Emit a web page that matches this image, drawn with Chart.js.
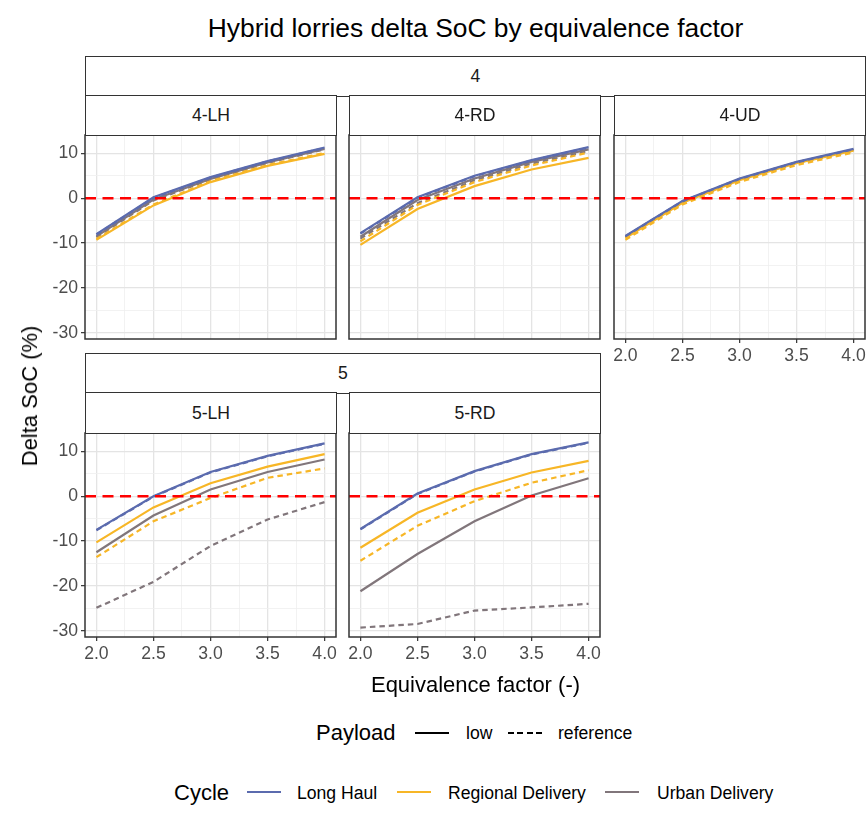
<!DOCTYPE html>
<html>
<head>
<meta charset="utf-8">
<script src="https://cdn.jsdelivr.net/npm/chart.js@4/dist/chart.umd.min.js"></script>
<style>
  body { margin: 0; background: #fff; font-family: "Liberation Sans", Arial, sans-serif; }
  #wrap { position: relative; width: 867px; height: 821px; overflow: hidden; }
  canvas { position: absolute; }
  .txt { position: absolute; white-space: nowrap; color: #000; }
  .strip { position: absolute; box-sizing: border-box; border: 1.5px solid #333; background: #fff;
           color: #1a1a1a; font-size: 17.6px; display: flex; align-items: center; justify-content: center; }
  .key { position: absolute; height: 0; }
</style>
</head>
<body>
<div id="wrap"></div>
<script>
// data
const factors = [2.0, 2.5, 3.0, 3.5, 4.0];
const xTicks = [2.0, 2.25, 2.5, 2.75, 3.0, 3.25, 3.5, 3.75, 4.0];
const yTicks = [-30, -25, -20, -15, -10, -5, 0, 5, 10];
const cycles = ["Long Haul", "Regional Delivery", "Urban Delivery"];
const payloads = ["low", "reference"];
const zeroLine = 0;

// rows: LH low, LH ref, RD low, RD ref, UD low, UD ref
const p4LH = [
  [-8.0, 0.2, 4.7, 8.3, 11.3],
  [-8.1, 0.1, 4.6, 8.2, 11.2],
  [-9.3, -1.6, 3.6, 7.2, 9.9],
  [-9.1, -1.4, 3.8, 7.4, 10.1],
  [-8.5, -0.3, 4.3, 8.0, 11.0],
  [-8.7, -0.5, 4.2, 7.9, 10.9]
];
const p4RD = [
  [-7.8, 0.2, 5.0, 8.5, 11.4],
  [-7.9, 0.1, 4.9, 8.4, 11.3],
  [-10.4, -2.4, 2.7, 6.4, 9.0],
  [-9.6, -1.5, 3.6, 7.3, 10.2],
  [-8.6, -0.4, 4.4, 8.1, 10.9],
  [-9.0, -1.1, 4.0, 7.7, 10.5]
];
const p4UD = [
  [-8.4, -0.6, 4.4, 8.1, 11.0],
  [-8.5, -0.7, 4.3, 8.0, 10.9],
  [-8.9, -1.0, 4.0, 7.8, 10.6],
  [-9.3, -1.4, 3.6, 7.4, 10.2],
  [-8.6, -0.8, 4.2, 8.0, 10.8],
  [-8.8, -1.0, 4.0, 7.8, 10.6]
];
const p5LH = [
  [-7.5, 0.0, 5.4, 9.0, 11.8],
  [-7.6, -0.1, 5.3, 8.9, 11.7],
  [-10.3, -2.5, 2.9, 6.6, 9.4],
  [-13.6, -5.6, -0.4, 4.1, 6.2],
  [-12.5, -4.3, 1.5, 5.4, 8.2],
  [-24.9, -19.1, -11.1, -5.2, -1.3]
];
const p5RD = [
  [-7.3, 0.6, 5.6, 9.4, 12.0],
  [-7.4, 0.5, 5.5, 9.3, 11.9],
  [-11.5, -3.7, 1.5, 5.3, 7.9],
  [-14.4, -6.6, -1.1, 3.0, 5.8],
  [-21.2, -12.9, -5.6, 0.15, 4.0],
  [-29.3, -28.5, -25.5, -24.8, -24.0]
];

const cycleColors = ["#5B6BAE", "#F7B626", "#81767B"];
const FONT = '"Liberation Sans", Arial, sans-serif';

const wrap = document.getElementById('wrap');

function addText(str, x, y, size, opts) {
  opts = opts || {};
  let d = document.createElement('div');
  d.className = 'txt';
  d.textContent = str;
  d.style.fontSize = size + 'px';
  d.style.left = x + 'px';
  d.style.top = y + 'px';
  let tx = opts.center ? '-50%' : '0';
  d.style.transform = 'translate(' + tx + ',-50%)' + (opts.rotate ? ' rotate(-90deg)' : '');
  if (opts.color) d.style.color = opts.color;
  wrap.appendChild(d);
}

function addStrip(label, x, y, w, h) {
  let d = document.createElement('div');
  d.className = 'strip';
  d.textContent = label;
  Object.assign(d.style, { left: x + 'px', top: y + 'px', width: w + 'px', height: h + 'px' });
  wrap.appendChild(d);
}

// ggplot style panel border + red zero line
const panelPlugin = {
  id: 'panelBits',
  afterDatasetsDraw(chart) {
    const { ctx, chartArea, scales } = chart;
    let y = scales.y.getPixelForValue(zeroLine);
    ctx.save();
    ctx.strokeStyle = '#FF0000';
    ctx.lineWidth = 2.4;
    ctx.setLineDash([11, 6.5]);
    ctx.beginPath();
    ctx.moveTo(chartArea.left, y);
    ctx.lineTo(chartArea.right, y);
    ctx.stroke();
    ctx.setLineDash([]);
    ctx.strokeStyle = '#333333';
    ctx.lineWidth = 1.5;
    ctx.strokeRect(chartArea.left, chartArea.top, chartArea.right - chartArea.left, chartArea.bottom - chartArea.top);
    ctx.restore();
  }
};

const PW = 251, PH = 204;   // panel size
const YW = 50, XH = 34, PAD = 15;

function isMajorX(v) { return Math.abs(v * 2 - Math.round(v * 2)) < 1e-6; }
function isMajorY(v) { return v % 10 === 0; }

function makePanel(rows, left, top, showX, showY) {
  let c = document.createElement('canvas');
  c.width = YW + PW + PAD;
  c.height = PAD + PH + XH;
  c.style.left = (left - YW) + 'px';
  c.style.top = (top - PAD) + 'px';
  wrap.appendChild(c);

  let datasets = [];
  rows.forEach((vals, i) => {
    let ci = Math.floor(i / 2);
    let pi = i % 2;
    datasets.push({
      label: cycles[ci] + ' ' + payloads[pi],
      data: factors.map((x, j) => ({ x: x, y: vals[j] })),
      borderColor: cycleColors[ci],
      borderWidth: 2.2,
      borderDash: pi === 1 ? [5.5, 4] : [],
      pointRadius: 0,
      tension: 0,
      fill: false
    });
  });

  new Chart(c, {
    type: 'line',
    data: { datasets: datasets },
    options: {
      responsive: false,
      animation: false,
      devicePixelRatio: 1,
      layout: { padding: { top: PAD, right: PAD, left: 0, bottom: 0 } },
      plugins: { legend: { display: false }, tooltip: { enabled: false } },
      scales: {
        x: {
          type: 'linear', min: 1.9, max: 4.1,
          afterBuildTicks: s => { s.ticks = xTicks.map(v => ({ value: v })); },
          afterFit: s => { s.height = XH; },
          border: { display: false },
          grid: {
            color: ctx => isMajorX(ctx.tick.value) ? '#E4E4E4' : '#EFEFEF',
            lineWidth: ctx => isMajorX(ctx.tick.value) ? 1.3 : 0.8,
            drawTicks: showX, tickLength: 4, tickWidth: 1.2,
            tickColor: ctx => isMajorX(ctx.tick.value) ? '#333333' : 'rgba(0,0,0,0)'
          },
          ticks: {
            display: showX, padding: 3, maxRotation: 0, autoSkip: false,
            color: '#4D4D4D', font: { family: FONT, size: 17.6 },
            callback: v => isMajorX(v) ? v.toFixed(1) : ''
          }
        },
        y: {
          type: 'linear', min: -31.4, max: 14.1,
          afterBuildTicks: s => { s.ticks = yTicks.map(v => ({ value: v })); },
          afterFit: s => { s.width = YW; },
          border: { display: false },
          grid: {
            color: ctx => isMajorY(ctx.tick.value) ? '#E4E4E4' : '#EFEFEF',
            lineWidth: ctx => isMajorY(ctx.tick.value) ? 1.3 : 0.8,
            drawTicks: showY, tickLength: 4, tickWidth: 1.2,
            tickColor: ctx => isMajorY(ctx.tick.value) ? '#333333' : 'rgba(0,0,0,0)'
          },
          ticks: {
            display: showY, padding: 3, autoSkip: false,
            color: '#4D4D4D', font: { family: FONT, size: 17.6 },
            callback: v => isMajorY(v) ? String(v) : ''
          }
        }
      }
    },
    plugins: [panelPlugin]
  });
}

const colX = [85, 349, 614];
const rowY = [135, 433];

makePanel(p4LH, colX[0], rowY[0], false, true);
makePanel(p4RD, colX[1], rowY[0], false, false);
makePanel(p4UD, colX[2], rowY[0], true, false);
makePanel(p5LH, colX[0], rowY[1], true, true);
makePanel(p5RD, colX[1], rowY[1], true, false);

// facet strips
addStrip('4', 85, 56, 781, 41);
addStrip('4-LH', colX[0], 95, PW + 1, 41);
addStrip('4-RD', colX[1], 95, PW + 1, 41);
addStrip('4-UD', colX[2], 95, PW + 1, 41);
addStrip('5', 85, 353, 516, 41);
addStrip('5-LH', colX[0], 392, PW + 1, 42);
addStrip('5-RD', colX[1], 392, PW + 1, 42);

// titles
addText('Hybrid lorries delta SoC by equivalence factor', 475.5, 28, 26.4, { center: true });
addText('Equivalence factor (-)', 475.5, 685, 22, { center: true });
addText('Delta SoC (%)', 30, 396, 22, { center: true, rotate: true });

// legends
function addKey(x, y, color, dashed) {
  let k = document.createElement('div');
  k.className = 'key';
  Object.assign(k.style, {
    left: x + 'px', top: (y - 1) + 'px', width: '34px',
    borderTop: '2.2px ' + (dashed ? 'dashed' : 'solid') + ' ' + color
  });
  if (dashed) {
    k.style.border = 'none';
    k.style.height = '2.2px';
    k.style.background = 'repeating-linear-gradient(90deg,' + color + ' 0 5.7px, transparent 5.7px 9.5px)';
  }
  wrap.appendChild(k);
}
addText('Payload', 316, 733, 22);
addKey(415, 733, '#000', false);
addText(payloads[0], 466, 733, 17.6);
addKey(508, 733, '#000', true);
addText(payloads[1], 558, 733, 17.6);

addText('Cycle', 174, 793, 22);
addKey(247, 792, cycleColors[0], false);
addText(cycles[0], 297, 793, 17.6);
addKey(397, 792, cycleColors[1], false);
addText(cycles[1], 448, 793, 17.6);
addKey(605, 792, cycleColors[2], false);
addText(cycles[2], 657, 793, 17.6);
</script>
</body>
</html>
